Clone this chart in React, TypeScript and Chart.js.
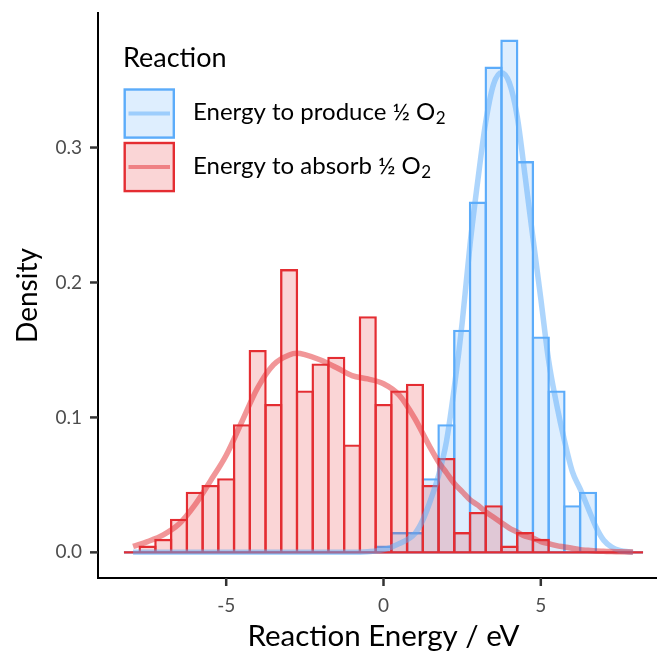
import React, { useEffect, useRef } from 'react';
import { Chart, registerables } from 'chart.js';

Chart.register(...registerables);

// ---------- data ----------
const BIN_WIDTH = 0.5;
const BIN_CENTERS = [
  -8, -7.5, -7, -6.5, -6, -5.5, -5, -4.5, -4, -3.5, -3, -2.5, -2, -1.5, -1, -0.5,
  0, 0.5, 1, 1.5, 2, 2.5, 3, 3.5, 4, 4.5, 5, 5.5, 6, 6.5, 7, 7.5, 8,
];
const ABSORB_HIST = [
  0, 0.005, 0.01, 0.025, 0.045, 0.05, 0.055, 0.095, 0.15, 0.11, 0.21, 0.12, 0.14, 0.145, 0.08, 0.175,
  0.11, 0.12, 0.125, 0.05, 0.07, 0.015, 0.03, 0.035, 0.005, 0.015, 0.01, 0, 0, 0, 0, 0, 0,
];
const PRODUCE_HIST = [
  0, 0, 0, 0, 0, 0, 0, 0, 0, 0, 0, 0, 0, 0, 0, 0,
  0.005, 0.015, 0.015, 0.055, 0.095, 0.165, 0.26, 0.36, 0.38, 0.29, 0.16, 0.12, 0.035, 0.045, 0, 0, 0,
];

const DENSITY_X = [
  -7.96, -7.5, -7, -6.5, -6, -5.5, -5, -4.5, -4, -3.5, -3, -2.75, -2.5, -2, -1.5, -1, -0.5, 0, 0.5, 1,
  1.25, 1.5, 1.75, 2, 2.25, 2.5, 2.75, 3, 3.25, 3.5, 3.75, 4, 4.25, 4.5, 4.75, 5, 5.25, 5.5, 5.75, 6,
  6.25, 6.5, 6.75, 7, 7.25, 7.5, 7.93,
];
const ABSORB_DENSITY = [
  0.0044, 0.008, 0.013, 0.021, 0.035, 0.053, 0.072, 0.097, 0.122, 0.139, 0.1463, 0.1475, 0.1465, 0.1425,
  0.137, 0.131, 0.1285, 0.125, 0.1165, 0.099, 0.088, 0.077, 0.067, 0.059, 0.051, 0.045, 0.039, 0.035,
  0.03, 0.026, 0.022, 0.018, 0.015, 0.012, 0.0105, 0.008, 0.0065, 0.005, 0.004, 0.003, 0.002, 0.0015,
  0.001, 0.0008, 0.0006, 0.0005, 0.0003,
];
const PRODUCE_DENSITY = [
  0, 0, 0, 0, 0, 0, 0, 0, 0, 0, 0, 0, 0, 0, 0, 0, 0.0005, 0.002, 0.0065, 0.014,
  0.024, 0.039, 0.057, 0.082, 0.122, 0.17, 0.228, 0.276, 0.319, 0.347, 0.3555, 0.348, 0.323, 0.279,
  0.233, 0.188, 0.142, 0.11, 0.083, 0.06, 0.047, 0.033, 0.019, 0.009, 0.004, 0.0015, 0,
];

const X_TICKS = [-5, 0, 5];
const Y_TICKS = [0, 0.1, 0.2, 0.3];
const X_TITLE = 'Reaction Energy / eV';
const Y_TITLE = 'Density';
const LEGEND_TITLE = 'Reaction';
const SERIES_NAMES = ['Energy to produce ½ O₂', 'Energy to absorb ½ O₂'];

// ---------- style ----------
const FONT = 'Lato, "Open Sans", sans-serif';
const BLUE = 'rgb(92,172,250)';
const BLUE_FILL = 'rgba(92,172,250,0.2)';
const BLUE_LINE = 'rgba(92,172,250,0.5)';
const RED = 'rgb(228,45,50)';
const RED_FILL = 'rgba(228,45,50,0.2)';
const RED_LINE = 'rgba(228,45,50,0.5)';
const SERIES_STYLE = [
  { stroke: BLUE, fill: BLUE_FILL, line: BLUE_LINE },
  { stroke: RED, fill: RED_FILL, line: RED_LINE },
];
const BAR_BORDER = 2.4;
const TICK_LEN = 8;
const TICK_COLOR = '#333333';

const axisTicksPlugin = {
  id: 'axisTicks',
  afterDraw(chart: any) {
    const ctx = chart.ctx as CanvasRenderingContext2D;
    const { x, y } = chart.scales;
    const area = chart.chartArea;
    ctx.save();
    ctx.strokeStyle = TICK_COLOR;
    ctx.lineWidth = 2.5;
    ctx.lineCap = 'butt';
    X_TICKS.forEach((v) => {
      const px = x.getPixelForValue(v);
      ctx.beginPath();
      ctx.moveTo(px, area.bottom);
      ctx.lineTo(px, area.bottom + TICK_LEN);
      ctx.stroke();
    });
    Y_TICKS.forEach((v) => {
      const py = y.getPixelForValue(v);
      ctx.beginPath();
      ctx.moveTo(area.left - TICK_LEN, py);
      ctx.lineTo(area.left, py);
      ctx.stroke();
    });
    ctx.restore();
  },
};

const legendPlugin = {
  id: 'ggLegend',
  afterDraw(chart: any) {
    const ctx = chart.ctx as CanvasRenderingContext2D;
    ctx.save();
    ctx.fillStyle = '#000';
    ctx.textBaseline = 'alphabetic';
    ctx.textAlign = 'left';
    ctx.font = `27px ${FONT}`;
    ctx.fillText(LEGEND_TITLE, 123, 67);
    const left = 123.5;
    const w = 51.5;
    const h = 50.5;
    const tops = [88.3, 141.8];
    SERIES_NAMES.forEach((name, i) => {
      const st = SERIES_STYLE[i];
      const top = tops[i];
      ctx.fillStyle = '#fff';
      ctx.fillRect(left, top, w, h);
      ctx.fillStyle = st.fill;
      ctx.fillRect(left + 1.2, top + 1.2, w - 2.4, h - 2.4);
      ctx.strokeStyle = st.stroke;
      ctx.lineWidth = 2.4;
      ctx.strokeRect(left + 1.2, top + 1.2, w - 2.4, h - 2.4);
      const cy = top + h / 2;
      ctx.strokeStyle = st.line;
      ctx.lineWidth = 4;
      ctx.beginPath();
      ctx.moveTo(left + 5, cy);
      ctx.lineTo(left + w - 5, cy);
      ctx.stroke();
      // label with subscript
      const m = name.match(/^(.*?)([₀-₉]+)$/);
      const main = m ? m[1] : name;
      const sub = m ? m[2].replace(/[₀-₉]/g, (c) => String(c.charCodeAt(0) - 0x2080)) : '';
      const baseY = cy + 6.5;
      const tx = 193;
      ctx.fillStyle = '#000';
      ctx.font = `24px ${FONT}`;
      ctx.fillText(main, tx, baseY);
      if (sub) {
        const mw = ctx.measureText(main).width;
        ctx.font = `17px ${FONT}`;
        ctx.fillText(sub, tx + mw + 0.5, baseY + 4);
      }
    });
    ctx.restore();
  },
};

export default function App() {
  const ref = useRef<HTMLCanvasElement>(null);

  useEffect(() => {
    const canvas = ref.current;
    if (!canvas) return;
    const histStart = BIN_CENTERS[0] - BIN_WIDTH / 2;
    const histEnd = BIN_CENTERS[BIN_CENTERS.length - 1] + BIN_WIDTH / 2;
    const barCommon = {
      type: 'bar' as const,
      borderWidth: BAR_BORDER,
      borderSkipped: 'bottom' as const,
      barPercentage: 1,
      categoryPercentage: (15.7 + BAR_BORDER) / 15.7,
      grouped: false,
      inflateAmount: 0,
    };
    const tickGrid = {
      display: false,
      drawOnChartArea: false,
      drawTicks: true,
      offset: false,
      tickLength: TICK_LEN,
    };
    const chart = new Chart(canvas, {
      type: 'bar',
      data: {
        datasets: [
          {
            type: 'line',
            label: 'absorb density',
            data: DENSITY_X.map((x, i) => ({ x, y: ABSORB_DENSITY[i] })),
            borderColor: RED_LINE,
            borderWidth: 5.5,
            pointRadius: 0,
            cubicInterpolationMode: 'monotone',
            fill: false,
            order: 0,
          } as any,
          {
            type: 'line',
            label: 'produce density',
            data: DENSITY_X.map((x, i) => ({ x, y: PRODUCE_DENSITY[i] })),
            borderColor: BLUE_LINE,
            borderWidth: 5.5,
            pointRadius: 0,
            cubicInterpolationMode: 'monotone',
            fill: false,
            order: 1,
          } as any,
          {
            type: 'line',
            label: 'absorb base',
            data: [
              { x: histStart, y: 0 },
              { x: histEnd, y: 0 },
            ],
            borderColor: RED,
            borderWidth: BAR_BORDER,
            pointRadius: 0,
            order: 2,
          } as any,
          {
            ...barCommon,
            label: SERIES_NAMES[1],
            data: BIN_CENTERS.map((x, i) => ({ x, y: ABSORB_HIST[i] })),
            backgroundColor: RED_FILL,
            borderColor: RED,
            order: 3,
          } as any,
          {
            type: 'line',
            label: 'produce base',
            data: [
              { x: histStart, y: 0 },
              { x: histEnd, y: 0 },
            ],
            borderColor: BLUE,
            borderWidth: BAR_BORDER,
            pointRadius: 0,
            order: 4,
          } as any,
          {
            ...barCommon,
            label: SERIES_NAMES[0],
            data: BIN_CENTERS.map((x, i) => ({ x, y: PRODUCE_HIST[i] })),
            backgroundColor: BLUE_FILL,
            borderColor: BLUE,
            order: 5,
          } as any,
        ],
      },
      options: {
        animation: false,
        responsive: false,
        devicePixelRatio: 1,
        layout: { padding: { top: 13, right: 0, bottom: 0, left: 0 } },
        plugins: {
          legend: { display: false },
          tooltip: { enabled: false },
        },
        scales: {
          x: {
            type: 'linear',
            min: -9.075,
            max: 9.075,
            offset: false,
            afterBuildTicks: (s: any) => {
              s.ticks = X_TICKS.map((v) => ({ value: v }));
            },
            afterFit: (s: any) => {
              s.height = 74;
              s.paddingLeft = 0;
              s.paddingRight = 0;
            },
            ticks: {
              font: { family: FONT, size: 19 },
              color: '#4d4d4d',
              padding: 8,
              maxRotation: 0,
              autoSkip: false,
              callback: (v: any) => String(v),
            },
            grid: tickGrid,
            border: { display: true, color: '#000', width: 2 },
            title: {
              display: true,
              text: X_TITLE,
              color: '#000',
              font: { family: FONT, size: 29.5, lineHeight: 1 },
              padding: { top: 0, bottom: 0.5 },
            },
          },
          y: {
            type: 'linear',
            min: -0.019,
            max: 0.3997,
            afterBuildTicks: (s: any) => {
              s.ticks = Y_TICKS.map((v) => ({ value: v }));
            },
            afterFit: (s: any) => {
              s.width = 98;
              s.paddingTop = 0;
              s.paddingBottom = 0;
            },
            ticks: {
              font: { family: FONT, size: 19 },
              color: '#4d4d4d',
              padding: 8,
              autoSkip: false,
              callback: (v: any) => Number(v).toFixed(1),
            },
            grid: tickGrid,
            border: { display: true, color: '#000', width: 2 },
            title: {
              display: true,
              text: Y_TITLE,
              color: '#000',
              font: { family: FONT, size: 28, lineHeight: 1 },
              padding: { top: 14, bottom: 0 },
            },
          },
        },
      } as any,
      plugins: [axisTicksPlugin, legendPlugin],
    });
    return () => chart.destroy();
  }, []);

  return (
    <div
      style={{
        position: 'absolute',
        left: 0,
        top: 0,
        width: 657,
        height: 652,
        overflow: 'hidden',
        background: '#fff',
      }}
    >
      <canvas ref={ref} width={669} height={652} style={{ display: 'block', width: 669, height: 652 }} />
    </div>
  );
}
